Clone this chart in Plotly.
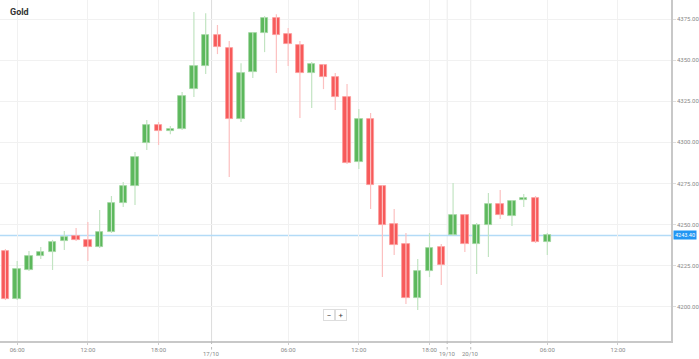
import plotly.graph_objects as go

# hourly candles (index along a gap-free time axis)
opens  = [4233.9, 4204.7, 4222.4, 4230.9, 4233.3, 4240.0, 4243.1, 4240.7, 4236.4, 4245.5,
          4263.1, 4273.4, 4299.6, 4310.5, 4306.9, 4308.1, 4332.4, 4346.4, 4365.3, 4357.4,
          4314.2, 4342.8, 4366.5, 4375.6, 4365.9, 4359.2, 4342.2, 4347.0, 4339.7, 4327.6,
          4288.0, 4314.2, 4273.4, 4250.3, 4238.2, 4205.3, 4221.8, 4236.4, 4243.7, 4255.8,
          4238.2, 4249.7, 4262.5, 4255.2, 4264.9, 4266.2, 4239.4]
highs  = [4235.1, 4227.8, 4233.9, 4236.4, 4240.7, 4246.1, 4247.9, 4251.6, 4258.9, 4267.4,
          4275.9, 4294.1, 4313.6, 4312.4, 4310.0, 4330.6, 4379.3, 4378.6, 4371.4, 4361.6,
          4348.2, 4367.1, 4376.8, 4378.0, 4369.5, 4361.6, 4348.9, 4347.6, 4342.2, 4335.5,
          4320.3, 4317.8, 4274.1, 4259.5, 4244.9, 4229.1, 4244.9, 4238.2, 4275.3, 4256.4,
          4250.9, 4269.2, 4271.0, 4264.9, 4268.6, 4267.4, 4244.9]
lows   = [4204.1, 4204.1, 4221.8, 4229.1, 4222.4, 4234.5, 4240.0, 4227.8, 4235.7, 4244.9,
          4260.7, 4261.9, 4295.3, 4298.4, 4305.0, 4307.5, 4327.6, 4341.6, 4353.7, 4278.9,
          4312.4, 4339.1, 4354.9, 4342.2, 4346.4, 4314.8, 4320.9, 4332.4, 4319.7, 4286.8,
          4283.8, 4259.5, 4218.1, 4231.5, 4201.7, 4198.0, 4218.1, 4213.2, 4243.1, 4233.3,
          4219.9, 4230.3, 4253.4, 4249.1, 4260.7, 4238.8, 4231.5]
closes = [4204.7, 4223.0, 4230.9, 4233.3, 4239.4, 4242.5, 4240.7, 4236.4, 4245.5, 4263.1,
          4273.4, 4291.1, 4310.5, 4306.9, 4308.1, 4328.2, 4346.4, 4365.3, 4358.0, 4314.2,
          4342.2, 4366.5, 4375.6, 4365.3, 4359.8, 4342.2, 4347.6, 4339.7, 4327.6, 4287.4,
          4314.2, 4274.1, 4249.7, 4237.6, 4205.3, 4221.8, 4235.7, 4225.4, 4255.8, 4238.2,
          4249.7, 4262.5, 4255.8, 4264.3, 4266.2, 4239.4, 4243.7]

time_tick_pos = [1, 7, 13, 24, 30, 36, 46, 52]
time_tick_text = ["06:00", "12:00", "18:00", "06:00", "12:00", "18:00", "06:00", "12:00"]
day_tick_pos = [17.5, 37.5, 39.5]
day_tick_text = ["17/10", "19/10", "20/10"]
price_ticks = [4200, 4225, 4250, 4275, 4300, 4325, 4350, 4375]
last_price = 4243.40
title = "Gold"

GREEN = "#5cb85c"
RED = "#f75a5a"
GREEN_W = "#c2e4c2"
RED_W = "#fcc0c0"

n = len(opens)
xs = list(range(n))
fig = go.Figure()

# wicks
for up in (True, False):
    wx, wy = [], []
    for i in xs:
        if (closes[i] >= opens[i]) == up:
            wx += [i, i, None]
            wy += [lows[i], highs[i], None]
    fig.add_trace(go.Scatter(x=wx, y=wy, mode="lines",
                             line=dict(color=GREEN_W if up else RED_W, width=1.2),
                             hoverinfo="skip", showlegend=False))

# bodies
for up in (True, False):
    bx, bb, bh = [], [], []
    for i in xs:
        if (closes[i] >= opens[i]) == up:
            bx.append(i)
            bb.append(min(opens[i], closes[i]))
            bh.append(max(abs(closes[i] - opens[i]), 0.6))
    fig.add_trace(go.Bar(x=bx, y=bh, base=bb, width=0.63,
                         marker=dict(color=GREEN if up else RED,
                                     line=dict(color="#9fd49f" if up else "#fb9a9a", width=0.8)),
                         showlegend=False, hoverinfo="skip"))

shapes = []
# day separators
for k, d in enumerate(day_tick_pos):
    shapes.append(dict(type="line", xref="x", yref="paper", x0=d, x1=d, y0=0, y1=1,
                       line=dict(color="#dcdcdc" if k == 0 else "#ebebeb", width=1), layer="below"))
    shapes.append(dict(type="line", xref="x", yref="paper", x0=d, x1=d, y0=0, y1=-0.025,
                       line=dict(color="#bbbbbb", width=1, dash="dot")))
# current price line
shapes.append(dict(type="line", xref="paper", yref="y", x0=0, x1=1, y0=last_price, y1=last_price,
                   line=dict(color="#b3dbf7", width=1.5), layer="below"))

annotations = [
    dict(x=0.012, y=0.985, xref="paper", yref="paper", text="<b>" + title + "</b>",
         showarrow=False, xanchor="left", yanchor="top",
         font=dict(size=9, color="#333333", family="Roboto")),
    dict(x=1.0, y=last_price, xref="paper", yref="y", text=f"{last_price:.2f}",
         showarrow=False, xanchor="left", yanchor="middle", bgcolor="#2196f3",
         font=dict(size=5.5, color="white", family="Roboto"), borderpad=1, xshift=2),
    dict(x=0.491, y=0.059, xref="paper", yref="paper", text="−", showarrow=False,
         bgcolor="white", bordercolor="#dddddd", borderwidth=1, borderpad=1,
         font=dict(size=8, color="#444444", family="Roboto"), width=8, height=8),
    dict(x=0.508, y=0.059, xref="paper", yref="paper", text="+", showarrow=False,
         bgcolor="white", bordercolor="#dddddd", borderwidth=1, borderpad=1,
         font=dict(size=8, color="#444444", family="Roboto"), width=8, height=8),
]
for d, t in zip(day_tick_pos, day_tick_text):
    annotations.append(dict(x=d, y=-0.038, xref="x", yref="paper", text=t, showarrow=False,
                            xanchor="center", yanchor="middle",
                            font=dict(size=6, color="#888888", family="Roboto")))

fig.update_layout(
    width=699, height=359,
    margin=dict(l=0, r=22, t=0, b=18),
    paper_bgcolor="white", plot_bgcolor="white",
    barmode="overlay", bargap=0,
    shapes=shapes, annotations=annotations,
    xaxis=dict(range=[-0.46, 56.5], tickmode="array", tickvals=time_tick_pos,
               ticktext=time_tick_text, showgrid=True, gridcolor="#f1f1f1", gridwidth=1,
               zeroline=False, showline=True, linecolor="#c8c8c8", linewidth=2,
               ticks="outside", ticklen=2, tickcolor="#cccccc",
               tickfont=dict(size=6, color="#888888", family="Roboto"), fixedrange=True),
    yaxis=dict(range=[4179.2, 4386.6], side="right", tickmode="array", tickvals=price_ticks,
               ticktext=[f"{p:.2f}" for p in price_ticks], showgrid=True, gridcolor="#f1f1f1",
               zeroline=False, showline=True, linecolor="#c8c8c8", linewidth=1.5,
               ticks="outside", ticklen=3, tickcolor="#dddddd",
               tickfont=dict(size=6, color="#888888", family="Roboto"), fixedrange=True),
)

fig.write_html("out.html", config={"displayModeBar": False})
